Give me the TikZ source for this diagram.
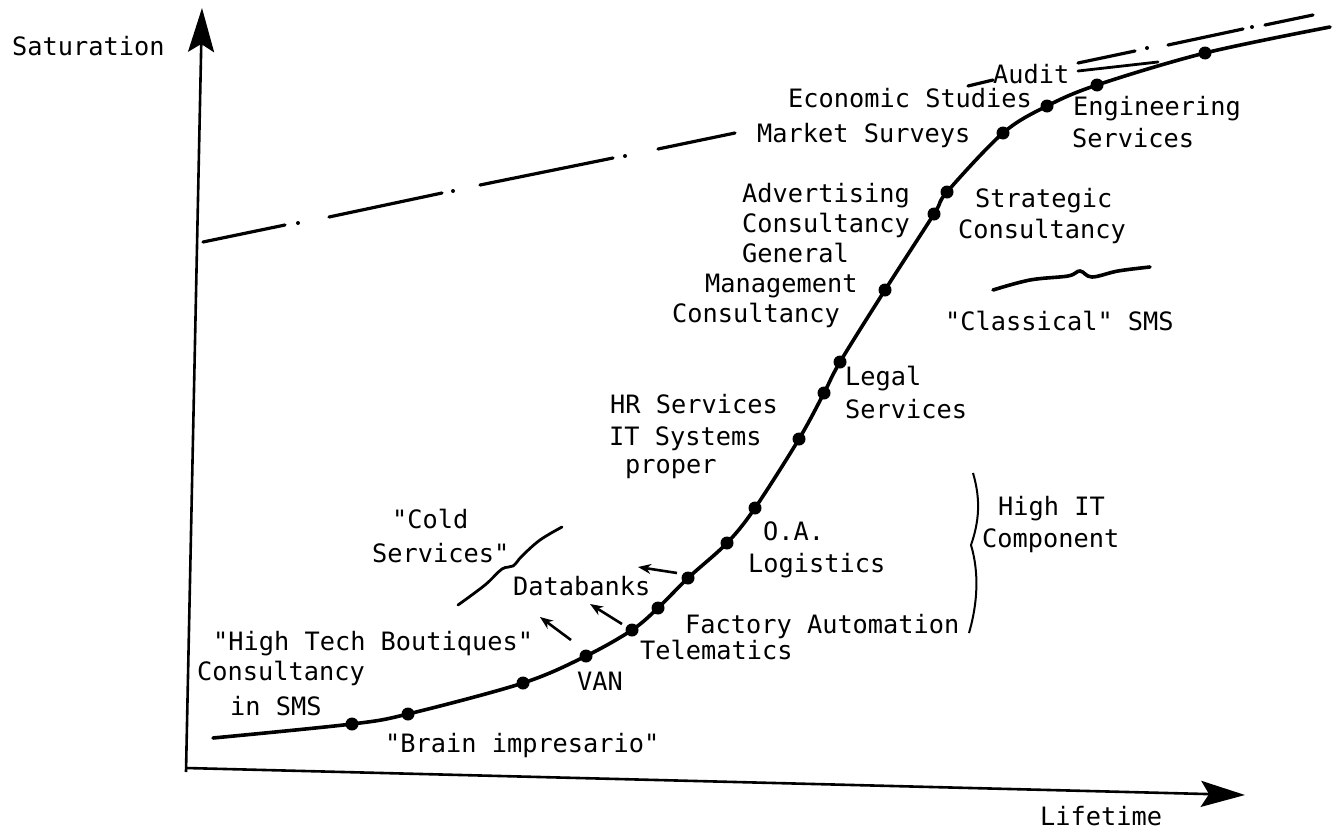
\documentclass[tikz,border=0pt]{standalone}
\usepackage{fontspec}
\setmonofont{DejaVu Sans Mono}
\usetikzlibrary{arrows.meta}
\begin{document}
\begin{tikzpicture}[x=1pt,y=-1pt,
  lbl/.style={anchor=base west,inner sep=0pt,font=\ttfamily\fontsize{25.3}{30}\selectfont},
  dotpt/.style={fill=black,circle,inner sep=0pt,minimum size=13pt},
  smalldot/.style={fill=black,circle,inner sep=0pt,minimum size=4pt},
  axis/.style={line width=2.6pt,-{Stealth[length=44pt,width=26pt,inset=8pt]}},
  curve/.style={line width=3.6pt,line cap=round},
  dd/.style={line width=3.2pt,line cap=round},
  pointer/.style={line width=2.6pt,-{Stealth[length=13pt,width=10pt]}},
  wavy/.style={line width=2.8pt,line cap=round}]
\useasboundingbox (0,0) rectangle (1334,830);

% axes
\coordinate (O) at (186,768);
\coordinate (Ytop) at (202,8);
\coordinate (Xend) at (1245,795);
\draw[axis] (186,772) -- (Ytop);
\draw[axis] (O) -- (Xend);

% dash-dot upper line
\draw[dd] (203,242) -- (285,225);
\node[smalldot] at (298,223) {};
\draw[dd] (329,217) -- (442,193);
\node[smalldot] at (453,191) {};
\draw[dd] (480,185) -- (613,158);
\node[smalldot] at (625,156) {};
\draw[dd] (658,149) -- (735,133);
\draw[dd] (968,86) -- (993,80);
\draw[dd] (1078,63) -- (1135,51);
\draw[line width=2.8pt,line cap=round] (1078,71) -- (1158,62);
\node[smalldot] at (1147,48) {};
\draw[dd] (1168,45) -- (1243,29);
\node[smalldot] at (1252,27) {};
\draw[dd] (1265,25) -- (1313,15);

% main S-curve
\draw[curve] plot[smooth,tension=0.55] coordinates {
  (213,738) (352,724) (408,714) (523,683) (586,656) (632,630) (658,608)
  (688,578) (727,543) (755,508) (799,439) (824,393) (840,362) (885,290)
  (934,214) (947,192) (1003,133) (1047,106) (1097,85) (1205,53) (1330,27)};
\foreach \p [count=\i] in {(352,724),(408,714),(523,683),(586,656),(632,630),(658,608),
  (688,578),(727,543),(755,508),(799,439),(824,393),(840,362),(885,290),
  (934,214),(947,192),(1003,133),(1047,106),(1097,85),(1205,53)}
  \node[dotpt] (d\i) at \p {};

% pointer arrows
\coordinate (a1s) at (571,640); \coordinate (a1e) at (540,617);
\coordinate (a2s) at (622,624); \coordinate (a2e) at (590,604);
\coordinate (a3s) at (677,573); \coordinate (a3e) at (638,567);
\draw[pointer] (a1s) -- (a1e);
\draw[pointer] (a2s) -- (a2e);
\draw[pointer] (a3s) -- (a3e);

% wavy separators
\draw[wavy] plot[smooth,tension=0.6] coordinates {(458,605) (485,585) (502,569) (513,566) (522,556) (540,540) (562,527)};
\draw[line width=3.6pt,line cap=round] plot[smooth,tension=0.6] coordinates {(993,290) (1030,280) (1068,276) (1080,271) (1092,277) (1118,271) (1150,267)};

% brace
\draw[line width=2pt] (973,473) .. controls (981,500) and (979,522) .. (971,545)
  .. controls (979,572) and (978,602) .. (969,633);

% labels
\node[lbl] (sat) at (12,55) {Saturation};
\node[lbl] (life) at (1040,825) {Lifetime};
\node[lbl] (audit) at (993,83) {Audit};
\node[lbl] (econ) at (788,107) {Economic Studies};
\node[lbl] (mkt) at (757,142) {Market Surveys};
\node[lbl] (eng1) at (1073,115) {Engineering};
\node[lbl] (eng2) at (1072,147) {Services};
\node[lbl] (adv1) at (742,202) {Advertising};
\node[lbl] (adv2) at (742,232) {Consultancy};
\node[lbl] (gen1) at (742,262) {General};
\node[lbl] (gen2) at (705,292) {Management};
\node[lbl] (gen3) at (672,322) {Consultancy};
\node[lbl] (str1) at (975,207) {Strategic};
\node[lbl] (str2) at (958,238) {Consultancy};
\node[lbl] (cls) at (945,330) {"Classical" SMS};
\node[lbl] (leg1) at (845,385) {Legal};
\node[lbl] (leg2) at (845,418) {Services};
\node[lbl] (hr1) at (610,413) {HR Services};
\node[lbl] (hr2) at (609,445) {IT Systems};
\node[lbl] (hr3) at (625,473) {proper};
\node[lbl] (oa) at (763,540) {O.A.};
\node[lbl] (log) at (748,572) {Logistics};
\node[lbl] (cold1) at (392,528) {"Cold};
\node[lbl] (cold2) at (372,562) {Services"};
\node[lbl] (db) at (513,595) {Databanks};
\node[lbl] (hit1) at (998,515) {High IT};
\node[lbl] (hit2) at (982,547) {Component};
\node[lbl] (htb) at (213,650) {"High Tech Boutiques"};
\node[lbl] (tel) at (640,659) {Telematics};
\node[lbl] (fa) at (685,633) {Factory Automation};
\node[lbl] (cis1) at (197,680) {Consultancy};
\node[lbl] (cis2) at (230,715) {in SMS};
\node[lbl] (van) at (577,690) {VAN};
\node[lbl] (brain) at (385,752) {"Brain impresario"};
\end{tikzpicture}
\end{document}
